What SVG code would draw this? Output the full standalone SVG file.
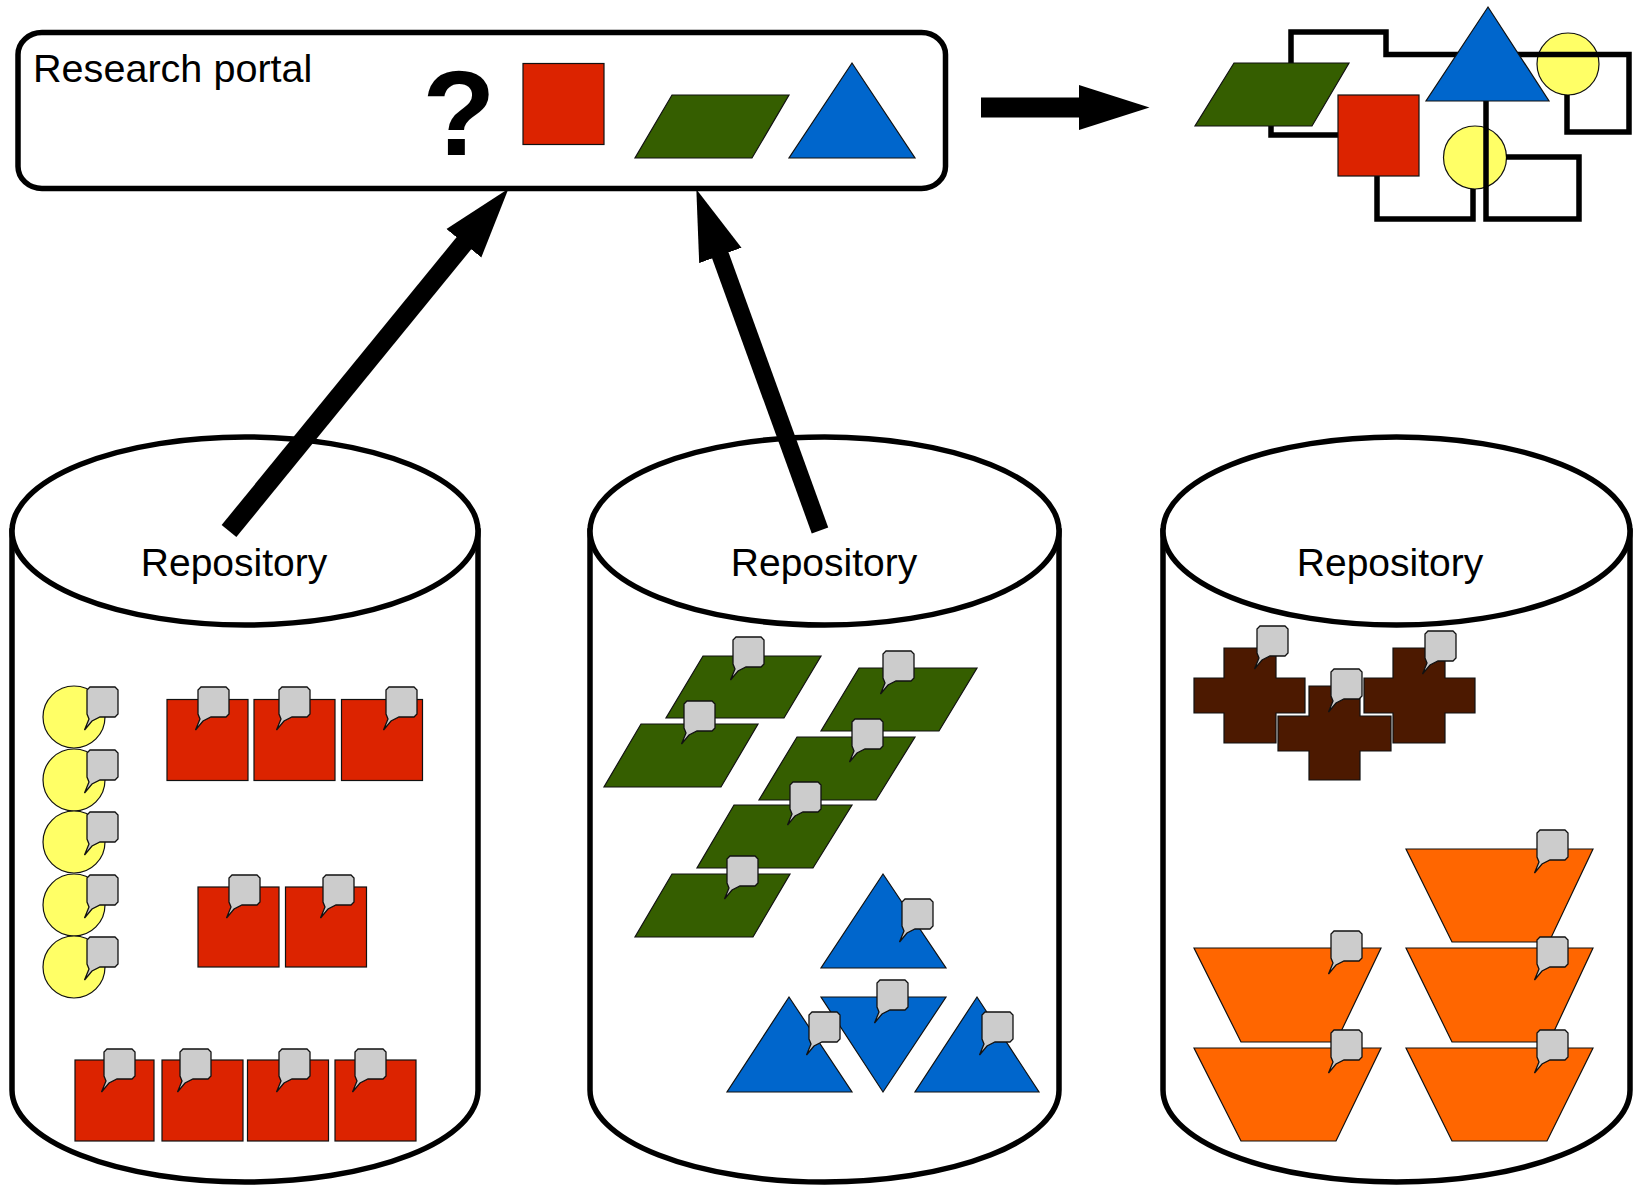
<svg xmlns="http://www.w3.org/2000/svg" xmlns:xlink="http://www.w3.org/1999/xlink" width="1639" height="1185" viewBox="0 0 1639 1185">
<style>
text{font-family:"Liberation Sans",Arial,sans-serif;fill:#000}
.lbl{font-size:39px;text-anchor:middle}
.s{stroke:#111;stroke-width:1.2;stroke-linejoin:miter}
.red{fill:#dc2300}.grn{fill:#355e00}.blu{fill:#0066cc}.yel{fill:#ffff66}.brn{fill:#4c1900}.org{fill:#ff6600}
.cyl{fill:#fff;stroke:#000;stroke-width:5.5}
.wire{fill:none;stroke:#000;stroke-width:5.500;stroke-linejoin:miter}
.arrow{stroke:#000;fill:none;marker-end:url(#head)}
</style>
<defs>
<marker id="head" markerUnits="userSpaceOnUse" markerWidth="71" markerHeight="46" refX="1" refY="23" orient="auto" viewBox="0 0 71 46"><path d="M0,0.5L70.500,23L0,45.500Z" fill="#000"/></marker>
<path id="b" d="M3,1H28L31,4V28L28,31H13L5,35L-2.500,44L2,33L0,28V4Z" fill="#cccccc" stroke="#111" stroke-width="1.300"/>
</defs>
<rect width="1639" height="1185" fill="#fff"/>

<g id="repository-1">
<path class="cyl" d="M12,531V1090A233,92 0 0 0 478,1090V531Z"/>
<ellipse class="cyl" cx="245" cy="531" rx="233" ry="94"/>
<text class="lbl" x="234" y="576">Repository</text>
<g id="r1-circles">
<circle class="yel s" cx="74" cy="717" r="31"/><use href="#b" x="87" y="686"/>
<circle class="yel s" cx="74" cy="780" r="31"/><use href="#b" x="87" y="749"/>
<circle class="yel s" cx="74" cy="842" r="31"/><use href="#b" x="87" y="811"/>
<circle class="yel s" cx="74" cy="905" r="31"/><use href="#b" x="87" y="874"/>
<circle class="yel s" cx="74" cy="967" r="31"/><use href="#b" x="87" y="936"/>
</g>
<g id="r1-squares">
<rect class="red s" x="167" y="699.500" width="81" height="81"/><use href="#b" x="198" y="686"/>
<rect class="red s" x="254" y="699.500" width="81" height="81"/><use href="#b" x="279" y="686"/>
<rect class="red s" x="341.500" y="699.500" width="81" height="81"/><use href="#b" x="386" y="686"/>
<rect class="red s" x="198" y="887" width="81" height="80"/><use href="#b" x="229" y="874"/>
<rect class="red s" x="285.500" y="887" width="81" height="80"/><use href="#b" x="323" y="874"/>
<rect class="red s" x="75" y="1060" width="79" height="81"/><use href="#b" x="104" y="1048"/>
<rect class="red s" x="162" y="1060" width="81" height="81"/><use href="#b" x="180" y="1048"/>
<rect class="red s" x="247.500" y="1060" width="81" height="81"/><use href="#b" x="279" y="1048"/>
<rect class="red s" x="335" y="1060" width="81" height="81"/><use href="#b" x="355" y="1048"/>
</g>
</g>

<g id="repository-2">
<path class="cyl" d="M590,531V1090A234.500,92 0 0 0 1059,1090V531Z"/>
<ellipse class="cyl" cx="824.500" cy="531" rx="234.500" ry="94"/>
<text class="lbl" x="824" y="576">Repository</text>
<g id="r2-parallelograms">
<polygon class="grn s" points="703,656 821,656 784,718 666,718"/><use href="#b" x="733" y="636"/>
<polygon class="grn s" points="641,724 758,724 721,787 604,787"/><use href="#b" x="684" y="700"/>
<polygon class="grn s" points="859,668 977,668 939,731 821,731"/><use href="#b" x="883" y="650"/>
<polygon class="grn s" points="797,737 915,737 876,800 759,800"/><use href="#b" x="852" y="718"/>
<polygon class="grn s" points="734,805 852,805 813,868 697,868"/><use href="#b" x="790" y="781"/>
<polygon class="grn s" points="672,874 790,874 753,937 635,937"/><use href="#b" x="727" y="855"/>
</g>
<g id="r2-triangles">
<polygon class="blu s" points="883,874 946,968 821,968"/><use href="#b" x="902" y="898"/>
<polygon class="blu s" points="821,997 946,997 883,1092"/><use href="#b" x="877" y="979"/>
<polygon class="blu s" points="789,997 852,1092 727,1092"/><use href="#b" x="809" y="1011"/>
<polygon class="blu s" points="977,997 1039,1092 915,1092"/><use href="#b" x="982" y="1011"/>
</g>
</g>

<g id="repository-3">
<path class="cyl" d="M1163,531V1090A233.500,92 0 0 0 1630,1090V531Z"/>
<ellipse class="cyl" cx="1396.500" cy="531" rx="233.500" ry="94"/>
<text class="lbl" x="1390" y="576">Repository</text>
<g id="r3-crosses">
<path class="brn s" d="M1224,648H1276V678H1305V713H1276V743H1224V713H1194V678H1224Z"/><use href="#b" x="1257" y="625"/>
<path class="brn s" d="M1393,648H1445V678H1475V713H1445V743H1393V713H1364V678H1393Z"/><use href="#b" x="1425" y="630"/>
<path class="brn s" d="M1309,686H1360V716H1391V751H1360V780H1309V751H1278V716H1309Z"/><use href="#b" x="1331" y="668"/>
</g>
<g id="r3-trapezoids">
<polygon class="org s" points="1406,849 1593,849 1549,942 1452,942"/><use href="#b" x="1537" y="829"/>
<polygon class="org s" points="1406,948 1593,948 1549,1042 1452,1042"/><use href="#b" x="1537" y="936"/>
<polygon class="org s" points="1406,1048 1593,1048 1547,1141 1452,1141"/><use href="#b" x="1537" y="1029"/>
<polygon class="org s" points="1194,948 1381,948 1336,1042 1241,1042"/><use href="#b" x="1331" y="930"/>
<polygon class="org s" points="1194,1048 1381,1048 1336,1141 1241,1141"/><use href="#b" x="1331" y="1029"/>
</g>
</g>

<g id="portal">
<rect x="18" y="32.500" width="927.500" height="156" rx="24" ry="22" fill="#fff" stroke="#000" stroke-width="5.500"/>
<text x="33" y="82" font-size="39.600">Research portal</text>
<text x="459" y="155" font-size="120" font-weight="700" text-anchor="middle">?</text>
<rect class="red s" x="523" y="63.500" width="81" height="81"/>
<polygon class="grn s" points="672,95 789,95 752,158 635,158"/>
<polygon class="blu s" points="852,63 915,158 789,158"/>
</g>

<g id="result-circle-top"><circle class="yel s" cx="1568" cy="64" r="31"/></g>
<g id="result-circle-bottom"><circle class="yel s" cx="1475" cy="157.500" r="31.500"/></g>

<g id="connectors">
<line class="arrow" x1="229" y1="531" x2="464.500" y2="242.500" stroke-width="19"/>
<line class="arrow" x1="820" y1="530.500" x2="720" y2="254.500" stroke-width="17.500"/>
<line class="arrow" x1="981" y1="107.500" x2="1080" y2="107.500" stroke-width="20"/>
<path class="wire" d="M1291,63V32H1386V54.500H1629V132H1567V95"/>
<path class="wire" d="M1271,126V135H1338"/>
<path class="wire" d="M1377,176V219H1473V189"/>
<path class="wire" d="M1486,101V219H1579V157H1506"/>
</g>

<g id="result-parallelogram"><polygon class="grn s" points="1234,63 1349,63 1312,126 1195,126"/></g>
<g id="result-square"><rect class="red s" x="1338" y="95" width="81" height="81"/></g>
<g id="result-triangle"><polygon class="blu s" points="1488,7 1549,101 1426,101"/></g>
</svg>
